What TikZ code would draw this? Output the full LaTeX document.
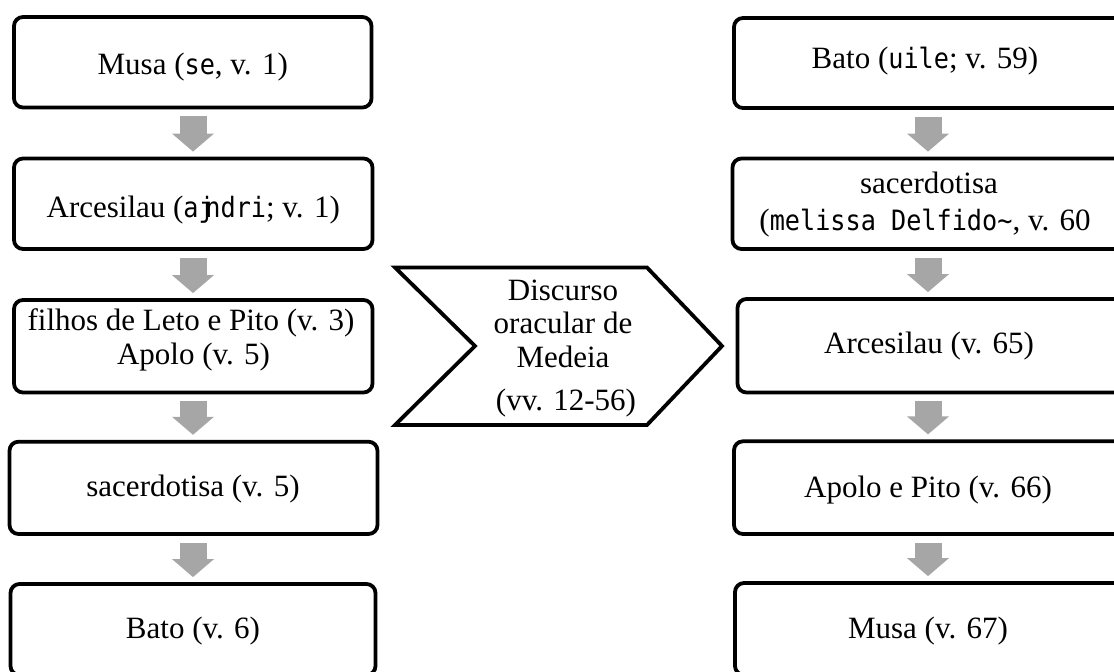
\documentclass[tikz,border=0pt]{standalone}
\usepackage{fontspec}
\setmainfont{Liberation Serif}
\newfontfamily\grk[FakeStretch=0.9]{DejaVu Sans Mono}
\usetikzlibrary{arrows.meta}
\definecolor{arrowgray}{RGB}{166,166,166}
\newcommand{\gk}[1]{{\grk\fontsize{28}{33}\selectfont #1}}
\begin{document}
\begin{tikzpicture}[x=1pt,y=-1pt,
  box/.style={draw, line width=3.8pt, rounded corners=9pt, inner sep=0pt, rectangle},
  txt/.style={font=\fontsize{31}{34}\selectfont, inner sep=0pt, anchor=base},
  garrow/.style={draw=arrowgray, line width=27pt, -{Triangle[length=18pt 0 0, width=41pt 0 0, fill=arrowgray]}}
]
\useasboundingbox (0,0) rectangle (1114,672);
\clip (0,0) rectangle (1114,672);

\coordinate (lx) at (193,0);
\coordinate (rx) at (928,0);

% left column
\node[box, minimum width=357.5pt, minimum height=90.5pt] (b1) at (192.75,62.25) {};
\node[box, minimum width=358.5pt, minimum height=90.5pt] (b2) at (193.25,203.75) {};
\node[box, minimum width=358.5pt, minimum height=92.5pt] (b3) at (193.25,346.25) {};
\node[box, minimum width=368pt, minimum height=92.3pt] (b4) at (193.5,487.85) {};
\node[box, minimum width=365pt, minimum height=91pt] (b5) at (193,629.5) {};

\node[txt] (t1) at (192.75,74) {Musa (\gk{se}, v. 1)};
\node[txt] (t2) at (193.25,217) {Arcesilau (\gk{aj\kern-0.3em ndri}; v. 1)};
\node[txt] (t3a) at (191,330) {filhos de Leto e Pito (v. 3)};
\node[txt] (t3b) at (193.5,364) {Apolo (v. 5)};
\node[txt] (t4) at (193,496.5) {sacerdotisa (v. 5)};
\node[txt] (t5) at (193,638) {Bato (v. 6)};

% right column (right edges run past the picture's edge)
\node[box, minimum width=426pt, minimum height=90pt] (r1) at (947,63) {};
\node[box, minimum width=427.5pt, minimum height=90.5pt] (r2) at (946.25,203.75) {};
\node[box, minimum width=422.5pt, minimum height=93.5pt] (r3) at (948.75,345.75) {};
\node[box, minimum width=426pt, minimum height=92.7pt] (r4) at (947,487.65) {};
\node[box, minimum width=425pt, minimum height=92pt] (r5) at (947.5,629) {};

\node[txt] (s1) at (925,68) {Bato (\gk{uile}; v. 59)};
\node[txt] (s2a) at (929,193) {sacerdotisa};
\node[txt] (s2b) at (925,230) {(\gk{melissa Delfido{\char`\~}}, v. 60};
\node[txt] (s3) at (929,353) {Arcesilau (v. 65)};
\node[txt] (s4) at (928,497) {Apolo e Pito (v. 66)};
\node[txt] (s5) at (928,638) {Musa (v. 67)};

% chevron
\draw[line width=3.8pt] (395,267.5) -- (647,267.5) -- (722,346) -- (647,425)
  -- (395,425) -- (475,346) -- cycle;
\node[txt] (c1) at (563,300) {Discurso};
\node[txt] (c2) at (563,333.5) {oracular de};
\node[txt] (c3) at (563,367) {Medeia};
\node[txt] (c4) at (566,410) {(vv. 12-56)};

% arrows
\foreach \a/\b in {b1/b2,b2/b3,b3/b4,b4/b5}
  \draw[garrow] ([yshift=-7pt]lx |- \a.south) -- ([yshift=5pt]lx |- \b.north);
\foreach \a/\b in {r1/r2,r2/r3,r3/r4,r4/r5}
  \draw[garrow] ([yshift=-7pt]rx |- \a.south) -- ([yshift=5pt]rx |- \b.north);
\end{tikzpicture}
\end{document}
